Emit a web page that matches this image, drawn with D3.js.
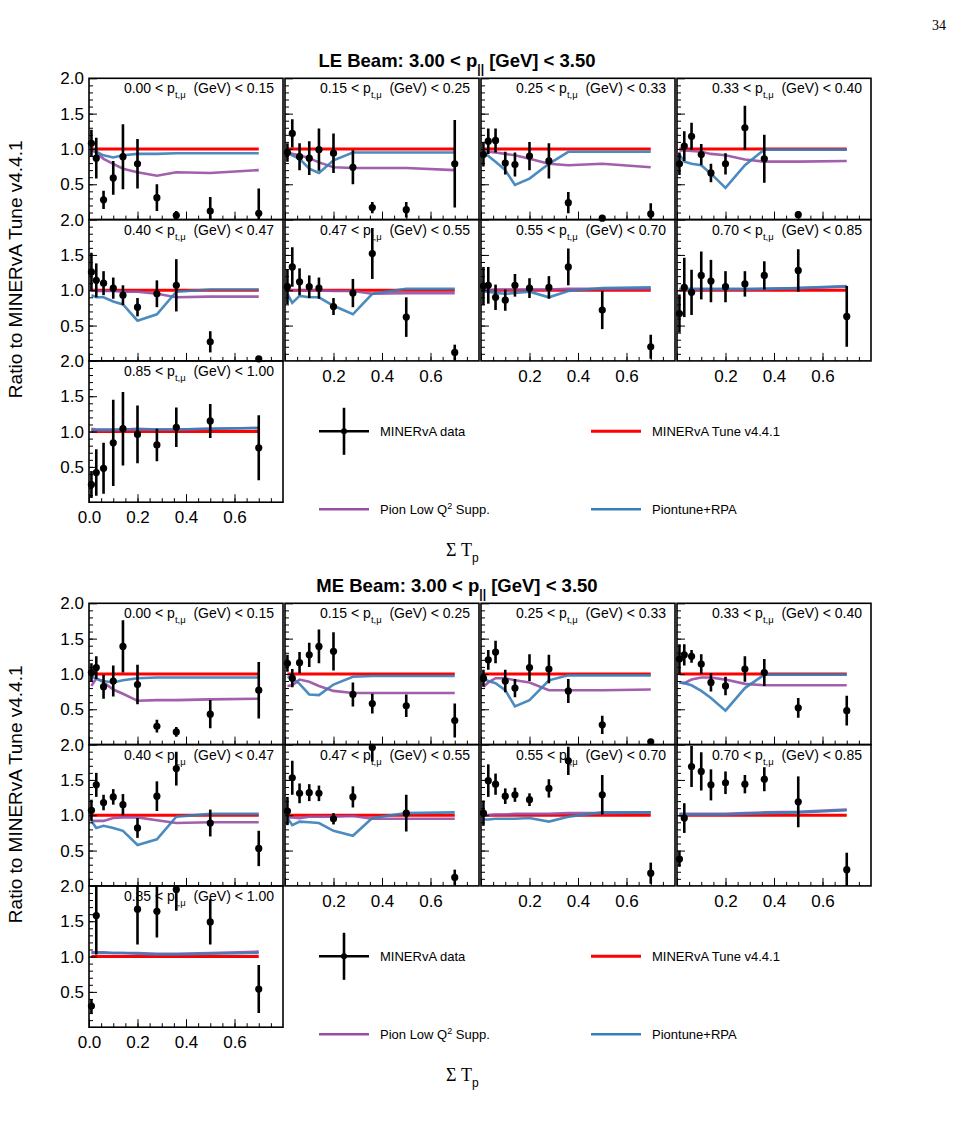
<!DOCTYPE html>
<html><head><meta charset="utf-8">
<script src="https://cdn.jsdelivr.net/npm/d3@7"></script>
<style>
body{margin:0;background:#fff}
svg{display:block}
text{font-family:"Liberation Sans",Arial,Helvetica,sans-serif;fill:#000}
</style>
</head><body>
<svg id="c" width="955" height="1128"></svg>
<script>
// ---------- data ----------
const sumTp = [0.01, 0.03, 0.06, 0.10, 0.14, 0.20, 0.28, 0.36, 0.50, 0.70];
const ptBins = [["0.00","0.15"],["0.15","0.25"],["0.25","0.33"],["0.33","0.40"],["0.40","0.47"],["0.47","0.55"],["0.55","0.70"],["0.70","0.85"],["0.85","1.00"]];
const xTickVals = [0.0, 0.2, 0.4, 0.6];
const yTickVals = [0.5, 1.0, 1.5, 2.0];
const tuneRatio = [1,1,1,1,1,1,1,1,1,1];

const leData = [
 [1.08,0.87,0.28,0.59,0.89,0.79,0.31,0.06,0.12,0.09],
 [0.95,1.22,0.89,0.87,0.99,0.94,0.74,0.17,0.14,0.79],
 [0.92,1.11,1.12,0.80,0.78,0.90,0.83,0.24,0.02,0.08],
 [0.79,1.04,1.18,0.92,0.66,0.79,1.30,0.86,0.07,null],
 [1.26,1.14,1.10,1.03,0.93,0.76,0.95,1.07,0.27,0.03],
 [1.05,1.33,1.12,1.05,1.03,0.77,0.96,1.52,0.62,0.12],
 [1.06,1.07,0.90,0.86,1.07,1.03,1.04,1.33,0.72,0.20],
 [0.67,1.04,0.97,1.21,1.13,1.05,1.09,1.21,1.28,0.63],
 [0.25,0.42,0.48,0.84,1.04,0.96,0.81,1.06,1.15,0.77]];
const leErr = [
 [0.19,0.29,0.13,0.24,0.46,0.35,0.19,0.06,0.20,0.35],
 [0.13,0.20,0.19,0.24,0.30,0.28,0.24,0.08,0.11,0.62],
 [0.17,0.18,0.17,0.16,0.17,0.20,0.25,0.15,0.02,0.15],
 [0.16,0.21,0.19,0.15,0.13,0.15,0.31,0.34,0.05,0],
 [0.27,0.24,0.17,0.15,0.14,0.13,0.19,0.37,0.15,0.03],
 [0.25,0.28,0.19,0.16,0.15,0.12,0.20,0.36,0.28,0.11],
 [0.27,0.26,0.18,0.15,0.16,0.14,0.16,0.26,0.27,0.17],
 [0.27,0.42,0.32,0.34,0.30,0.22,0.18,0.20,0.30,0.43],
 [0.19,0.33,0.36,0.61,0.52,0.41,0.23,0.28,0.24,0.46]];
const lePionLowQ2 = [
 [0.98,0.95,0.86,0.79,0.72,0.67,0.62,0.67,0.66,0.70],
 [0.96,0.93,0.91,0.87,0.81,0.74,0.73,0.73,0.73,0.70],
 [0.98,0.96,0.95,0.93,0.91,0.86,0.79,0.77,0.79,0.74],
 [0.98,0.98,0.97,0.96,0.93,0.91,0.85,0.82,0.82,0.83],
 [1.00,0.99,0.99,0.99,0.98,0.98,0.95,0.90,0.91,0.91],
 [1.00,1.00,1.00,1.00,1.00,0.99,0.99,0.95,0.96,0.96],
 [1.00,1.00,1.01,1.01,1.01,1.01,1.01,1.02,1.02,1.02],
 [1.01,1.01,1.01,1.01,1.01,1.01,1.01,1.02,1.03,1.05],
 [1.04,1.03,1.03,1.03,1.03,1.04,1.03,1.03,1.04,1.05]];
const lePiontune = [
 [0.99,0.96,0.91,0.88,0.91,0.93,0.93,0.94,0.94,0.94],
 [0.96,0.91,0.86,0.72,0.66,0.84,0.95,0.95,0.95,0.95],
 [0.95,0.90,0.82,0.70,0.49,0.58,0.79,0.96,0.96,0.96],
 [0.92,0.82,0.79,0.77,0.65,0.45,0.77,0.99,0.99,0.99],
 [0.93,0.90,0.90,0.84,0.80,0.57,0.66,0.98,1.01,1.01],
 [0.95,0.82,0.92,0.90,0.90,0.78,0.66,0.95,1.02,1.02],
 [0.98,0.98,0.96,0.95,0.96,0.98,0.90,0.99,1.03,1.04],
 [1.02,1.02,1.02,1.02,1.02,1.02,1.02,1.02,1.03,1.06],
 [1.03,1.02,1.02,1.02,1.03,1.03,1.03,1.03,1.04,1.05]];

const meData = [
 [1.02,1.09,0.82,0.90,1.39,0.85,0.26,0.18,0.43,0.77],
 [1.15,0.94,1.16,1.27,1.39,1.32,0.71,0.58,0.55,0.34],
 [0.94,1.20,1.31,0.90,0.80,1.09,1.07,0.76,0.28,0.04],
 [1.21,1.27,1.25,1.14,0.88,0.83,1.07,1.02,0.52,0.48],
 [1.07,1.43,1.18,1.26,1.15,0.82,1.27,1.66,0.89,0.53],
 [1.06,1.53,1.31,1.32,1.31,0.95,1.26,1.96,1.03,0.12],
 [1.03,1.49,1.44,1.27,1.29,1.22,1.38,1.77,1.29,0.18],
 [0.38,0.96,1.69,1.62,1.43,1.46,1.44,1.51,1.19,0.23],
 [0.30,1.58,null,null,null,1.67,1.64,1.95,1.49,0.54]];
const meErr = [
 [0.13,0.16,0.17,0.22,0.37,0.28,0.09,0.07,0.20,0.40],
 [0.12,0.13,0.15,0.17,0.24,0.27,0.17,0.14,0.16,0.24],
 [0.12,0.14,0.16,0.16,0.13,0.19,0.20,0.17,0.13,0.03],
 [0.21,0.15,0.09,0.14,0.13,0.13,0.18,0.19,0.14,0.21],
 [0.15,0.17,0.11,0.11,0.15,0.14,0.21,0.24,0.19,0.25],
 [0.20,0.24,0.14,0.12,0.11,0.08,0.15,0.20,0.26,0.11],
 [0.18,0.23,0.15,0.11,0.10,0.09,0.13,0.20,0.28,0.15],
 [0.11,0.21,0.29,0.27,0.22,0.16,0.13,0.17,0.36,0.24],
 [0.10,0.55,0,0,0,0.50,0.37,0.30,0.32,0.34]];
const mePionLowQ2 = [
 [0.83,0.94,0.88,0.78,0.72,0.62,0.63,0.63,0.64,0.65],
 [0.83,0.84,0.92,0.89,0.83,0.76,0.73,0.73,0.73,0.73],
 [0.82,0.88,0.94,0.94,0.91,0.88,0.77,0.77,0.77,0.78],
 [0.88,0.87,0.92,0.95,0.95,0.92,0.86,0.84,0.84,0.84],
 [0.92,0.92,0.92,0.96,0.97,0.97,0.93,0.89,0.90,0.90],
 [0.97,0.97,0.96,0.98,0.98,0.98,0.99,0.95,0.95,0.95],
 [1.00,1.00,1.01,1.01,1.02,1.02,1.02,1.03,1.03,1.04],
 [1.02,1.02,1.02,1.02,1.02,1.02,1.03,1.04,1.05,1.08],
 [1.06,1.06,1.06,1.05,1.05,1.05,1.04,1.04,1.05,1.07]];
const mePiontune = [
 [0.97,0.93,0.90,0.88,0.91,0.94,0.95,0.95,0.95,0.95],
 [0.96,0.94,0.86,0.71,0.70,0.85,0.96,0.97,0.97,0.97],
 [0.94,0.90,0.87,0.77,0.54,0.63,0.91,0.98,0.98,0.98],
 [0.88,0.87,0.84,0.76,0.66,0.48,0.80,0.99,0.99,0.99],
 [0.92,0.82,0.85,0.82,0.78,0.58,0.66,0.98,1.02,1.02],
 [0.96,0.86,0.91,0.90,0.89,0.78,0.71,0.96,1.03,1.04],
 [0.94,0.94,0.95,0.95,0.95,0.96,0.91,0.98,1.04,1.04],
 [1.01,1.01,1.01,1.01,1.01,1.01,1.02,1.03,1.04,1.07],
 [1.05,1.05,1.05,1.05,1.05,1.04,1.03,1.03,1.04,1.05]];

const legendLabels = ["MINERvA data", "MINERvA Tune v4.4.1", "Pion Low Q", "Piontune+RPA"];
const colors = {tune:"#ff0000", pion:"#984ea3", piontune:"#377eb8"};

// ---------- drawing ----------
const svg = d3.select("#c");
const FONT = '"Liberation Sans",Arial,Helvetica,sans-serif';

svg.append("text").attr("x",946).attr("y",30).attr("text-anchor","end")
  .style("font-family",'"Liberation Serif","Times New Roman",serif').attr("font-size",14).text("34");

const PW = 194, PH = 141.3, X0 = 89, DX = 196;
let clipId = 0;

function drawBlock(beam, T, data, err, pion, piontune) {
  const blk = svg.append("g");
  // title
  const tt = blk.append("text").attr("x",457).attr("y",T-11).attr("text-anchor","middle")
    .attr("font-weight","bold").attr("font-size",18.5);
  tt.append("tspan").text(`${beam} Beam: 3.00 < p`);
  tt.append("tspan").attr("font-size",12).attr("dy",6).text("||");
  tt.append("tspan").attr("dy",-6).text("\u00a0[GeV] < 3.50");

  // y title
  blk.append("text").attr("transform",`translate(15,${T+191}) rotate(-90)`)
    .attr("text-anchor","middle").attr("dominant-baseline","central").attr("font-size",19)
    .text("Ratio to MINERvA Tune v4.4.1");

  // x title
  const xt = blk.append("text").attr("x",446).attr("y",T+478);
  xt.append("tspan").style("font-family",'"Liberation Serif","Times New Roman",serif').attr("font-size",18).text("Σ T");
  xt.append("tspan").attr("font-size",12).attr("dy",6).text("p");

  for (let i = 0; i < 9; i++) {
    const row = Math.floor(i/4), col = i % 4;
    const L = X0 + col*DX, Tp = T + row*PH, B = Tp + PH;
    const x = d3.scaleLinear().domain([0,0.8]).range([L, L+PW]);
    const y = d3.scaleLinear().domain([0,2]).range([B, Tp]);
    const g = blk.append("g");
    const cid = "clip"+(clipId++);
    g.append("clipPath").attr("id",cid).append("rect").attr("x",L).attr("y",Tp).attr("width",PW).attr("height",PH);
    const inner = g.append("g").attr("clip-path",`url(#${cid})`);

    const line = d3.line().x((d,k)=>x(sumTp[k])).y(d=>y(d));
    inner.append("path").attr("d",line(tuneRatio)).attr("fill","none").attr("stroke",colors.tune).attr("stroke-width",3);
    inner.append("path").attr("d",line(pion[i])).attr("fill","none").attr("stroke",colors.pion).attr("stroke-width",2.6).attr("stroke-opacity",0.9);
    inner.append("path").attr("d",line(piontune[i])).attr("fill","none").attr("stroke",colors.piontune).attr("stroke-width",2.6).attr("stroke-opacity",0.9);

    const pts = data[i].map((v,k)=>({x:sumTp[k], v, e:err[i][k]})).filter(p=>p.v!==null);
    inner.selectAll("line.eb").data(pts).join("line").attr("class","eb")
      .attr("x1",p=>x(p.x)).attr("x2",p=>x(p.x))
      .attr("y1",p=>y(p.v+p.e)).attr("y2",p=>y(p.v-p.e))
      .attr("stroke","#000").attr("stroke-width",2.6);
    g.selectAll("circle").data(pts.filter(p=>p.v>=0 && p.v<=2.02)).join("circle")
      .attr("cx",p=>x(p.x)).attr("cy",p=>y(p.v)).attr("r",3.6).attr("fill","#000");

    // axes (ticks inside)
    const showY = col === 0;
    const yMajor = d3.axisLeft(y).tickValues(yTickVals).tickSize(-8).tickPadding(5)
      .tickFormat(showY ? d3.format(".1f") : () => "");
    const yMinor = d3.axisLeft(y).tickValues(d3.range(1,20).map(k=>k/10)).tickSize(-4).tickFormat(()=>"");
    const ga = g.append("g").attr("transform",`translate(${L},0)`).call(yMajor);
    const gm = g.append("g").attr("transform",`translate(${L},0)`).call(yMinor);

    let xFmt = () => "";
    if (row === 2) xFmt = d3.format(".1f");
    else if (row === 1 && col > 0) xFmt = d => d === 0 ? "" : d3.format(".1f")(d);
    const xMajor = d3.axisBottom(x).tickValues(xTickVals).tickSize(-8).tickPadding(6).tickFormat(xFmt);
    const xMinor = d3.axisBottom(x).tickValues(d3.range(1,16).map(k=>k*0.05)).tickSize(-4).tickFormat(()=>"");
    const gx = g.append("g").attr("transform",`translate(0,${B})`).call(xMajor);
    const gxm = g.append("g").attr("transform",`translate(0,${B})`).call(xMinor);
    [ga,gm,gx,gxm].forEach(a=>{
      a.select(".domain").remove();
      a.selectAll("line").attr("stroke","#000").attr("stroke-width",1);
      a.selectAll("text").attr("font-size",17).style("font-family",FONT).attr("fill","#000");
    });
    gx.selectAll("text").attr("dy","0.9em");

    // frame
    g.append("rect").attr("x",L).attr("y",Tp).attr("width",PW).attr("height",PH)
      .attr("fill","none").attr("stroke","#000").attr("stroke-width",1.6);

    // bin label
    const [lo,hi] = ptBins[i];
    const lt = g.append("text").attr("x",L+185).attr("y",Tp+15).attr("text-anchor","end").attr("font-size",14);
    lt.append("tspan").text(`${lo} < p`);
    lt.append("tspan").attr("font-size",9.5).attr("dy",5).text("t,μ");
    lt.append("tspan").attr("dy",-5).text(`\u00a0 (GeV) < ${hi}`);
  }

  // legend
  const lg = blk.append("g");
  const yA = T + 353, yB = T + 431;
  lg.append("line").attr("x1",319).attr("x2",369).attr("y1",yA).attr("y2",yA).attr("stroke","#000").attr("stroke-width",2.6);
  lg.append("line").attr("x1",344).attr("x2",344).attr("y1",yA-23.5).attr("y2",yA+23.5).attr("stroke","#000").attr("stroke-width",2.6);
  lg.append("circle").attr("cx",344).attr("cy",yA).attr("r",3).attr("fill","#000");
  lg.append("text").attr("x",380).attr("y",yA).attr("dominant-baseline","central").attr("font-size",13).text(legendLabels[0]);
  lg.append("line").attr("x1",591).attr("x2",641).attr("y1",yA).attr("y2",yA).attr("stroke",colors.tune).attr("stroke-width",3);
  lg.append("text").attr("x",652).attr("y",yA).attr("dominant-baseline","central").attr("font-size",13).text(legendLabels[1]);
  lg.append("line").attr("x1",319).attr("x2",369).attr("y1",yB).attr("y2",yB).attr("stroke",colors.pion).attr("stroke-width",2.6);
  const pt = lg.append("text").attr("x",380).attr("y",yB+4.5).attr("font-size",13);
  pt.append("tspan").text(legendLabels[2]);
  pt.append("tspan").attr("font-size",9).attr("dy",-5).text("2");
  pt.append("tspan").attr("dy",5).text(" Supp.");
  lg.append("line").attr("x1",591).attr("x2",641).attr("y1",yB).attr("y2",yB).attr("stroke",colors.piontune).attr("stroke-width",2.6);
  lg.append("text").attr("x",652).attr("y",yB).attr("dominant-baseline","central").attr("font-size",13).text(legendLabels[3]);
}

drawBlock("LE", 78.3, leData, leErr, lePionLowQ2, lePiontune);
drawBlock("ME", 603.3, meData, meErr, mePionLowQ2, mePiontune);
</script>
</body></html>
